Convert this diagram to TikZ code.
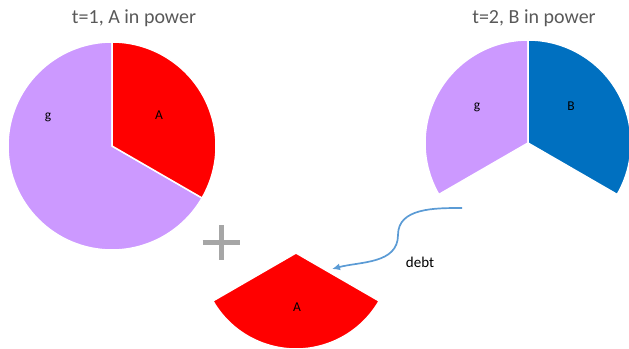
\documentclass[tikz,border=0pt]{standalone}
\usepackage{fontspec}
\setmainfont{Carlito}
\usetikzlibrary{arrows.meta, positioning}

\definecolor{gpurple}{HTML}{CC99FF}
\definecolor{apred}{HTML}{FF0000}
\definecolor{bblue}{HTML}{0070C0}
\definecolor{debtblue}{HTML}{5B9BD5}
\definecolor{titlegray}{HTML}{595959}
\definecolor{plusgray}{HTML}{A6A6A6}

\begin{document}
\begin{tikzpicture}[
    x=1pt, y=1pt,
    slice/.style={
        draw=white,
        line width=1.5pt,
        line join=round
    },
    title text/.style={
        text=titlegray,
        font=\fontsize{20}{24}\selectfont,
        anchor=base
    },
    slice label/.style={
        font=\fontsize{13.5}{16}\selectfont
    },
    debt arrow/.style={
        -{Latex[length=8pt, width=7pt]},
        line width=1.7pt,
        draw=debtblue
    }
]
    \useasboundingbox (0,0) rectangle (629,348);

    % pie centres
    \coordinate (pie1) at (112,202);
    \coordinate (pie2) at (528,205);
    \coordinate (owed) at (296,95);

    % --- A. t=1 (Left) ---
    \filldraw[fill=gpurple, slice] (pie1) -- ++(90:104) arc[start angle=90, end angle=330, radius=104] -- cycle;
    \filldraw[fill=apred, slice] (pie1) -- ++(-30:104) arc[start angle=-30, end angle=90, radius=104] -- cycle;
    \node[title text] (title1) at (134,324) {t=1, A in power};
    \node[slice label] (g1) at (48,231) {g};
    \node[slice label] (a1) at (159,233) {A};

    % --- B. t=2 (Right) ---
    \filldraw[fill=gpurple, slice] (pie2) -- ++(90:103) arc[start angle=90, end angle=210, radius=103] -- cycle;
    \filldraw[fill=bblue, slice] (pie2) -- ++(-30:103) arc[start angle=-30, end angle=90, radius=103] -- cycle;
    \node[title text] (title2) at (534,324) {t=2, B in power};
    \node[slice label] (g2) at (477,241) {g};
    \node[slice label] (b2) at (571,242) {B};

    % --- C. debt slice (Bottom) ---
    \filldraw[fill=apred, slice] (owed) -- ++(210:96) arc[start angle=210, end angle=330, radius=96] -- cycle;
    \node[slice label] (a3) at (297,41) {A};

    % plus sign
    \coordinate (plus) at (221,105);
    \draw[plusgray, line width=5pt] ([xshift=-18.5pt]plus) -- ([xshift=18.5pt]plus);
    \draw[plusgray, line width=5pt] ([yshift=17.5pt]plus) -- ([yshift=-17.5pt]plus);

    % debt arrow
    \coordinate (debtstart) at (462,140);
    \coordinate (debtbend) at (398,113);
    \coordinate (debtend) at (332,79);
    \draw[debt arrow] (debtstart) to[out=180, in=90] (debtbend) to[out=270, in=15] (debtend);
    \node[anchor=base, font=\fontsize{15}{18}\selectfont] (debt) at (420,80) {debt};

\end{tikzpicture}
\end{document}
